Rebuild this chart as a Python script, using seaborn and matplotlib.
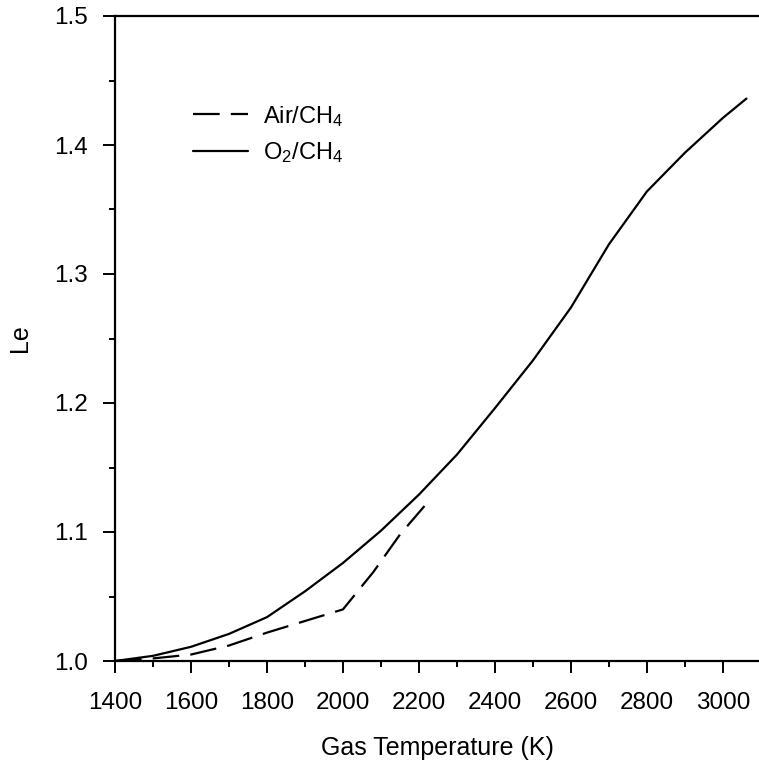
import pandas as pd
import seaborn as sns
import matplotlib.pyplot as plt
from matplotlib.ticker import MultipleLocator

# Lewis number vs gas temperature
temp_o2 = [1400, 1500, 1600, 1700, 1800, 1900, 2000, 2100, 2200, 2300, 2400,
           2500, 2600, 2700, 2800, 2900, 3000, 3062]
le_o2 = [1.000, 1.004, 1.011, 1.021, 1.034, 1.054, 1.076, 1.101, 1.129, 1.160, 1.196,
         1.233, 1.274, 1.323, 1.364, 1.394, 1.421, 1.436]

temp_air = [1400, 1500, 1600, 1700, 1800, 1900, 2000, 2080, 2150, 2220]
le_air = [1.000, 1.002, 1.005, 1.012, 1.022, 1.031, 1.040, 1.069, 1.098, 1.122]

label_air = 'Air/CH$_4$'
label_o2 = 'O$_2$/CH$_4$'

df = pd.concat([
    pd.DataFrame({'T': temp_air, 'Le': le_air, 'Mixture': label_air}),
    pd.DataFrame({'T': temp_o2, 'Le': le_o2, 'Mixture': label_o2}),
])

sns.set_theme(style='ticks')
plt.rcParams['font.family'] = ['Liberation Sans', 'DejaVu Sans']
plt.rcParams['mathtext.fontset'] = 'custom'
plt.rcParams['mathtext.rm'] = 'Liberation Sans'
plt.rcParams['mathtext.it'] = 'Liberation Sans:italic'
plt.rcParams['text.color'] = 'black'
plt.rcParams['axes.labelcolor'] = 'black'

fig = plt.figure(figsize=(7.59, 7.60), dpi=100)
ax = fig.add_axes([115 / 759, 99 / 760, 644 / 759, 645 / 760])

sns.lineplot(data=df, x='T', y='Le', style='Mixture', color='black',
             dashes={label_air: (12, 5), label_o2: ''}, linewidth=1.6,
             sort=False, ax=ax)

ax.set_xlim(1400, 3095)
ax.set_ylim(1.0, 1.5)
ax.xaxis.set_major_locator(MultipleLocator(200))
ax.xaxis.set_minor_locator(MultipleLocator(100))
ax.yaxis.set_major_locator(MultipleLocator(0.1))
ax.yaxis.set_minor_locator(MultipleLocator(0.05))
ax.yaxis.set_major_formatter(plt.FormatStrFormatter('%.1f'))
ax.tick_params(which='major', direction='out', length=8.5, width=1.4,
               labelsize=17.5, colors='black', labelcolor='black')
ax.tick_params(axis='x', which='major', pad=14)
ax.tick_params(axis='y', which='major', pad=11)
ax.tick_params(which='minor', direction='out', length=4.5, width=1.4, colors='black')
ax.tick_params(top=False, right=False, which='both')

for side in ['left', 'bottom', 'top']:
    ax.spines[side].set_linewidth(1.6)
    ax.spines[side].set_color('black')
ax.spines['right'].set_visible(False)

ax.set_xlabel('Gas Temperature (K)', fontsize=18, labelpad=16)
ax.set_ylabel('Le', fontsize=18, labelpad=16)

ax.legend(loc='upper left', bbox_to_anchor=(0.088, 0.897), frameon=False,
          fontsize=17, handlelength=2.35, handletextpad=0.6, labelspacing=0.5,
          title=None)

fig.savefig('out.png', dpi=100)
